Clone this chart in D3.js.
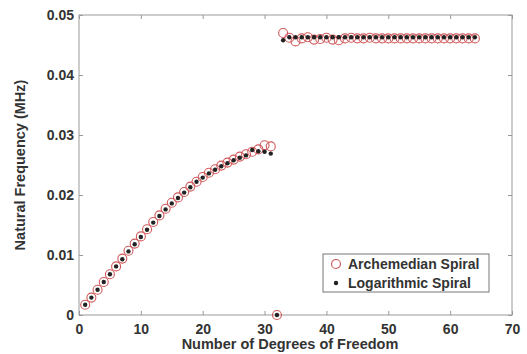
<!DOCTYPE html>
<html>
<head>
<meta charset="utf-8">
<script src="https://cdn.jsdelivr.net/npm/d3@7"></script>
<style>
  body { margin: 0; background: #fff; }
  text { font-family: "Liberation Sans", Arial, sans-serif; font-weight: bold; fill: #333; }
</style>
</head>
<body>
<svg width="527" height="354"></svg>
<script>
// degrees of freedom 1..64
const dof = d3.range(1, 65)

const archFreq = [
  0.0017, 0.0029, 0.0042, 0.0055, 0.0068, 0.0081, 0.0094, 0.0107, 0.0119, 0.0131,
  0.0143, 0.0155, 0.0166, 0.0177, 0.0187, 0.0196, 0.0205, 0.0214, 0.0222, 0.0230,
  0.0237, 0.0243, 0.0249, 0.0254, 0.0259, 0.0264, 0.0268, 0.0272, 0.0276, 0.0283,
  0.0281, 0.0000, 0.0470, 0.0462, 0.0456, 0.0461, 0.0463, 0.0459, 0.0460, 0.0462,
  0.0459, 0.0458, 0.0461, 0.0462, 0.0461, 0.0461, 0.0462, 0.0461, 0.0461, 0.0461,
  0.0461, 0.0461, 0.0461, 0.0461, 0.0461, 0.0461, 0.0461, 0.0461, 0.0461, 0.0461,
  0.0461, 0.0461, 0.0461, 0.0461
]

const logFreq = [
  0.0017, 0.0029, 0.0042, 0.0055, 0.0068, 0.0081, 0.0093, 0.0106, 0.0118, 0.0130,
  0.0142, 0.0154, 0.0165, 0.0176, 0.0186, 0.0195, 0.0204, 0.0213, 0.0222, 0.0229,
  0.0236, 0.0242, 0.0248, 0.0253, 0.0258, 0.0262, 0.0266, 0.0275, 0.0273, 0.0272,
  0.0269, 0.0000, 0.0458, 0.0463, 0.0463, 0.0463, 0.0463, 0.0463, 0.0463, 0.0463,
  0.0463, 0.0463, 0.0463, 0.0463, 0.0463, 0.0463, 0.0463, 0.0463, 0.0463, 0.0463,
  0.0463, 0.0463, 0.0463, 0.0463, 0.0463, 0.0463, 0.0463, 0.0463, 0.0463, 0.0463,
  0.0463, 0.0463, 0.0463, 0.0463
]

const xTicks = [0, 10, 20, 30, 40, 50, 60, 70]
const yTicks = [0, 0.01, 0.02, 0.03, 0.04, 0.05]
const seriesNames = ["Archemedian Spiral", "Logarithmic Spiral"]

const svg = d3.select("svg")
const margin = {top: 15, right: 15, bottom: 39, left: 79}
const width = 527 - margin.left - margin.right
const height = 354 - margin.top - margin.bottom

const x = d3.scaleLinear().domain([0, 70]).range([0, width])
const y = d3.scaleLinear().domain([0, 0.05]).range([height, 0])

const g = svg.append("g").attr("transform", "translate(" + margin.left + "," + margin.top + ")")

const axisColor = "#999"

// box
g.append("rect")
  .attr("width", width).attr("height", height)
  .attr("fill", "none").attr("stroke", axisColor)

function styleAxis(sel) {
  sel.select(".domain").remove()
  sel.selectAll(".tick line").attr("stroke", axisColor)
  sel.selectAll(".tick text").style("font-size", "14px").attr("fill", "#333")
}

g.append("g").attr("transform", "translate(0," + height + ")")
  .call(d3.axisBottom(x).tickValues(xTicks).tickSize(-4).tickPadding(9).tickFormat(d3.format("d")))
  .call(styleAxis)
g.append("g")
  .call(d3.axisTop(x).tickValues(xTicks).tickSize(-4).tickFormat(""))
  .call(styleAxis)
g.append("g")
  .call(d3.axisLeft(y).tickValues(yTicks).tickSize(-4).tickPadding(5).tickFormat(d => d === 0 ? "0" : d3.format(".2f")(d)))
  .call(styleAxis)
g.append("g").attr("transform", "translate(" + width + ",0)")
  .call(d3.axisRight(y).tickValues(yTicks).tickSize(-4).tickFormat(""))
  .call(styleAxis)

// data
const archColor = "#d0585a"
g.append("g").selectAll("circle")
  .data(dof)
  .enter().append("circle")
  .attr("cx", (d, i) => x(d))
  .attr("cy", (d, i) => y(archFreq[i]))
  .attr("r", 4.5)
  .attr("fill", "none")
  .attr("stroke", archColor)
  .attr("stroke-width", 1.1)

g.append("g").selectAll("circle")
  .data(dof)
  .enter().append("circle")
  .attr("cx", (d, i) => x(d))
  .attr("cy", (d, i) => y(logFreq[i]))
  .attr("r", 2.2)
  .attr("fill", "#222")

// axis titles
svg.append("text")
  .attr("x", 290)
  .attr("y", 349)
  .attr("text-anchor", "middle")
  .style("font-size", "14.5px")
  .text("Number of Degrees of Freedom")

svg.append("text")
  .attr("transform", "translate(25,165) rotate(-90)")
  .attr("text-anchor", "middle")
  .style("font-size", "14.5px")
  .text("Natural Frequency (MHz)")

// legend
const legend = svg.append("g").attr("transform", "translate(323,254)")
legend.append("rect")
  .attr("width", 166).attr("height", 38)
  .attr("fill", "#fff").attr("stroke", "#777")

const rows = legend.selectAll("g.row")
  .data(seriesNames)
  .enter().append("g")
  .attr("transform", (d, i) => "translate(0," + (10 + i * 19) + ")")

rows.append("circle")
  .attr("cx", 13).attr("cy", 0)
  .attr("r", (d, i) => i === 0 ? 4.5 : 2.2)
  .attr("fill", (d, i) => i === 0 ? "none" : "#222")
  .attr("stroke", (d, i) => i === 0 ? archColor : "none")
  .attr("stroke-width", 1.1)

rows.append("text")
  .attr("x", 25).attr("y", 5)
  .style("font-size", "14px")
  .text(d => d)
</script>
</body>
</html>
